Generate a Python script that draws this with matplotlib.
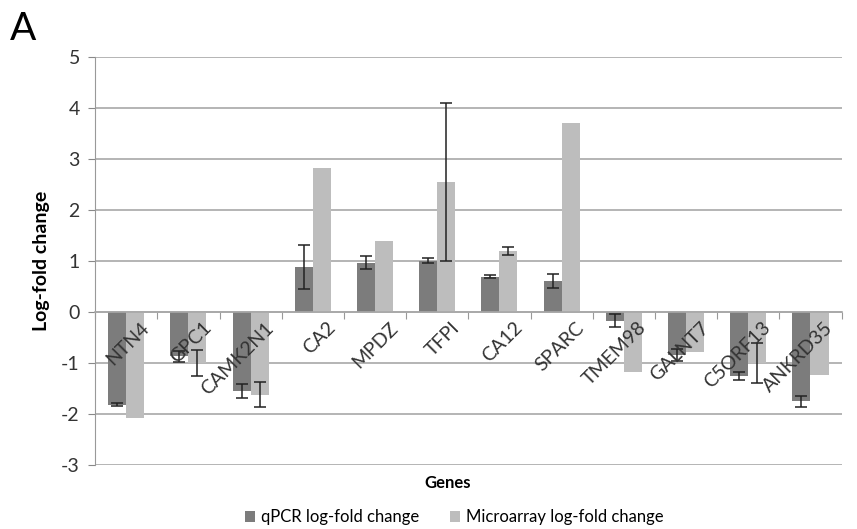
import matplotlib
matplotlib.use("Agg")
import matplotlib.pyplot as plt
import numpy as np

plt.rcParams['font.family'] = ['Lato', 'DejaVu Sans']
plt.rcParams['axes.unicode_minus'] = False

genes = ["NTN4", "GPC1", "CAMK2N1", "CA2", "MPDZ", "TFPI", "CA12", "SPARC",
         "TMEM98", "GALNT7", "C5ORF13", "ANKRD35"]
qpcr = [-1.82, -0.87, -1.55, 0.88, 0.97, 1.01, 0.69, 0.61, -0.17, -0.85, -1.25, -1.75]
qpcr_err = [0.03, 0.11, 0.13, 0.43, 0.13, 0.05, 0.03, 0.13, 0.13, 0.12, 0.08, 0.11]
micro = [-2.08, -1.0, -1.62, 2.82, 1.39, 2.56, 1.19, 3.7, -1.18, -0.78, -1.0, -1.24]
micro_err = [0.0, 0.25, 0.25, 0.0, 0.0, 1.55, 0.08, 0.0, 0.0, 0.0, 0.4, 0.0]

dark = "#7c7c7c"
light = "#bdbdbd"

fig = plt.figure(figsize=(8.57, 5.29), dpi=100)
ax = fig.add_axes([0.111, 0.121, 0.871, 0.771])

x = np.arange(len(genes))
w = 0.29
ax.bar(x - w / 2, qpcr, w, color=dark, label="qPCR log-fold change", zorder=2)
ax.bar(x + w / 2, micro, w, color=light, label="Microarray log-fold change", zorder=2)

# error bars (only where present)
qe = np.array(qpcr_err)
me = np.array(micro_err)
ax.errorbar(x - w / 2, qpcr, yerr=np.where(qe > 0, qe, np.nan), fmt="none",
            ecolor="#222222", elinewidth=1.1, capsize=4, capthick=1.1, zorder=3)
ax.errorbar(x + w / 2, micro, yerr=np.where(me > 0, me, np.nan), fmt="none",
            ecolor="#222222", elinewidth=1.1, capsize=4, capthick=1.1, zorder=3)

ax.set_ylim(-3, 5)
ax.set_xlim(-0.5, len(genes) - 0.5)
ax.set_yticks(range(-3, 6))
ax.tick_params(axis="y", labelsize=14, length=5, pad=6, color="#888888",
               labelcolor="#333333")
ax.yaxis.grid(True, color="#a8a8a8", linewidth=1.2, zorder=0)
ax.set_axisbelow(True)

for s in ["top", "right"]:
    ax.spines[s].set_visible(False)
ax.spines["left"].set_color("#999999")
ax.spines["bottom"].set_position(("data", 0))
ax.spines["bottom"].set_color("#a8a8a8")
ax.spines["bottom"].set_linewidth(1.2)

ax.set_xticks(np.arange(len(genes) + 1) - 0.5)
ax.set_xticklabels([])
ax.tick_params(axis="x", length=5, color="#999999")

for i, g in enumerate(genes):
    ax.annotate(g, (i, 0), xytext=(10, -5), textcoords="offset points",
                rotation=45, ha="right", va="top", rotation_mode="anchor",
                fontsize=14, color="#333333")

ax.set_ylabel("Log-fold change", fontsize=14, fontweight="bold", labelpad=8)
fig.text(0.522, 0.087, "Genes", fontsize=12, fontweight="bold", ha="center", va="center")
fig.text(0.012, 0.945, "A", fontsize=28, ha="left", va="center")

fig.legend(loc="center", bbox_to_anchor=(0.53, 0.022), ncol=2, frameon=False,
           fontsize=12, handlelength=0.6, handleheight=0.6, handletextpad=0.4,
           columnspacing=1.8)

fig.savefig("out.png", dpi=100)
